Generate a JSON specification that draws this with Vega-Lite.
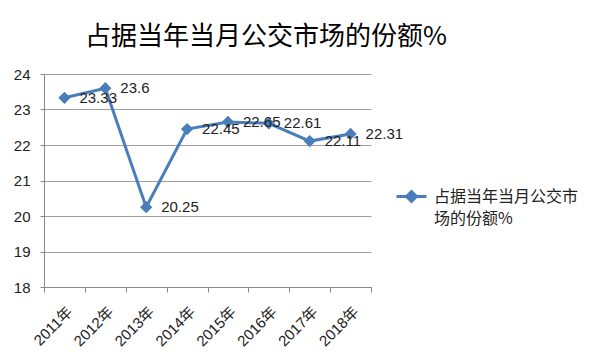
{
  "$schema": "https://vega.github.io/schema/vega-lite/v6.json",
  "autosize": {"type": "none"},
  "width": 327,
  "height": 213,
  "padding": {"left": 44, "top": 74, "right": 229, "bottom": 74},
  "background": "white",
  "title": {
    "text": "占据当年当月公交市场的份额%",
    "anchor": "start",
    "frame": "group",
    "dx": 41,
    "dy": 33,
    "offset": 29,
    "baseline": "alphabetic",
    "font": "Noto Sans CJK SC",
    "fontSize": 26,
    "fontWeight": "normal",
    "color": "#000000"
  },
  "data": {
    "values": [
      {"year": "2011年", "value": 23.33, "series": "占据当年当月公交市场的份额%"},
      {"year": "2012年", "value": 23.6, "series": "占据当年当月公交市场的份额%"},
      {"year": "2013年", "value": 20.25, "series": "占据当年当月公交市场的份额%"},
      {"year": "2014年", "value": 22.45, "series": "占据当年当月公交市场的份额%"},
      {"year": "2015年", "value": 22.65, "series": "占据当年当月公交市场的份额%"},
      {"year": "2016年", "value": 22.61, "series": "占据当年当月公交市场的份额%"},
      {"year": "2017年", "value": 22.11, "series": "占据当年当月公交市场的份额%"},
      {"year": "2018年", "value": 22.31, "series": "占据当年当月公交市场的份额%"}
    ]
  },
  "encoding": {
    "x": {
      "field": "year",
      "type": "nominal",
      "sort": null,
      "scale": {"type": "band", "paddingInner": 0, "paddingOuter": 0},
      "axis": {
        "title": null,
        "labelAngle": -45,
        "labelFont": "Liberation Sans, Noto Sans CJK SC",
        "labelFontSize": 15,
        "labelColor": "#222222",
        "tickBand": "extent",
        "tickSize": 5,
        "tickColor": "#888888",
        "domainColor": "#888888",
        "grid": false,
        "labelPadding": 12
      }
    },
    "y": {
      "field": "value",
      "type": "quantitative",
      "scale": {"domain": [18, 24], "zero": false, "nice": false},
      "axis": {
        "title": null,
        "values": [18, 19, 20, 21, 22, 23, 24],
        "tickSize": 4,
        "labelPadding": 10,
        "grid": true,
        "gridColor": "#a0a0a0",
        "domainColor": "#888888",
        "tickColor": "#888888",
        "labelFont": "Liberation Sans",
        "labelFontSize": 15,
        "labelColor": "#222222"
      }
    }
  },
  "layer": [
    {
      "mark": {"type": "line", "strokeWidth": 3},
      "encoding": {
        "color": {
          "field": "series",
          "type": "nominal",
          "scale": {"range": ["#4a7ebb"]},
          "legend": {
            "title": null,
            "orient": "none",
            "legendX": 351,
            "legendY": 106,
            "symbolType": "M-1,0L1,0M-0.33,0L0,-0.33L0.33,0L0,0.33Z",
            "symbolSize": 900,
            "symbolStrokeWidth": 3,
            "labelOffset": 6,
            "labelFont": "Noto Sans CJK SC",
            "labelFontSize": 16,
            "labelColor": "#222222",
            "labelLimit": 300,
            "labelExpr": "['占据当年当月公交市', '场的份额%']",
            "encode": {
              "symbols": {
                "update": {
                  "fill": {"value": "#4a7ebb"},
                  "stroke": {"value": "#4a7ebb"}
                }
              },
              "labels": {
                "update": {
                  "lineHeight": {"value": 22}
                }
              }
            }
          }
        }
      }
    },
    {
      "mark": {"type": "point", "shape": "diamond", "filled": true, "size": 150, "opacity": 1, "color": "#4a7ebb"}
    },
    {
      "mark": {"type": "text", "align": "left", "baseline": "middle", "dx": 15, "font": "Liberation Sans", "fontSize": 15, "color": "#222222"},
      "encoding": {"text": {"field": "value", "type": "quantitative"}}
    }
  ],
  "config": {"view": {"stroke": null}}
}
